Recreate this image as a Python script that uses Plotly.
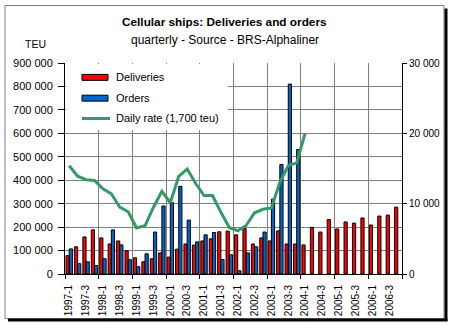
import plotly.graph_objects as go

quarters = ["1997-1", "1997-2", "1997-3", "1997-4", "1998-1", "1998-2", "1998-3", "1998-4",
            "1999-1", "1999-2", "1999-3", "1999-4", "2000-1", "2000-2", "2000-3", "2000-4",
            "2001-1", "2001-2", "2001-3", "2001-4", "2002-1", "2002-2", "2002-3", "2002-4",
            "2003-1", "2003-2", "2003-3", "2003-4", "2004-1", "2004-2", "2004-3", "2004-4",
            "2005-1", "2005-2", "2005-3", "2005-4", "2006-1", "2006-2", "2006-3", "2006-4"]

deliveries = [78000, 116000, 158000, 188000, 154000, 128000, 141000, 99000,
              69000, 52000, 65000, 90000, 72000, 106000, 128000, 123000,
              141000, 150000, 180000, 183000, 167000, 194000, 128000, 154000,
              141000, 184000, 128000, 128000, 124000, 199000, 179000, 232000,
              192000, 222000, 217000, 239000, 209000, 247000, 251000, 285000]

orders = [107000, 44000, 52000, 36000, 65000, 188000, 124000, 61000,
          31000, 86000, 179000, 290000, 304000, 374000, 230000, 137000,
          167000, 177000, 62000, 82000, 14000, 90000, 116000, 179000,
          319000, 467000, 810000, 531000, None, None, None, None,
          None, None, None, None, None, None, None, None]

daily_rate = [15400, 13900, 13400, 13300, 12100, 11400, 9500, 8850,
              6550, 6850, 9500, 11750, 10130, 13900, 14930, 12900,
              11150, 11150, 8800, 6600, 6150, 6900, 8700, 9200,
              9400, 13050, 15400, 15800, 20000, None, None, None,
              None, None, None, None, None, None, None, None]

left_ticks = [0, 100000, 200000, 300000, 400000, 500000, 600000, 700000, 800000, 900000]
right_ticks = [0, 10000, 20000, 30000]

FONT = "Liberation Sans, Arial, sans-serif"
W, H = 452, 328
ML, MR, MT, MB = 65, 50, 63, 52
PW, PH = W - ML - MR, H - MT - MB

def px(x):
    return (x - ML) / PW

def py(y):
    return (H - MB - y) / PH

idx = list(range(len(quarters)))
label_idx = idx[::2]
label_txt = quarters[::2]
grid_vals = [i - 0.5 for i in idx[::4]] + [len(quarters) - 0.5]

fig = go.Figure()
fig.add_trace(go.Bar(x=idx, y=deliveries, name="Deliveries",
                     marker=dict(color="#FF0000", line=dict(color="black", width=1))))
fig.add_trace(go.Bar(x=idx, y=orders, name="Orders",
                     marker=dict(color="#0066CC", line=dict(color="black", width=1))))
fig.add_trace(go.Scatter(x=idx, y=daily_rate, name="Daily rate (1,700 teu)", yaxis="y2",
                         mode="lines", line=dict(color="#339966", width=3)))

shapes = []
# outer chart frame
shapes.append(dict(type="rect", xref="paper", yref="paper", x0=px(5), x1=px(444), y0=py(5), y1=py(321),
                   line=dict(color="#808080", width=1), fillcolor="rgba(0,0,0,0)", layer="below"))
shapes.append(dict(type="line", xref="paper", yref="paper", x0=px(446), x1=px(446), y0=py(8), y1=py(323.5),
                   line=dict(color="black", width=3), layer="above"))
shapes.append(dict(type="line", xref="paper", yref="paper", x0=px(8), x1=px(447.5), y0=py(322.5), y1=py(322.5),
                   line=dict(color="black", width=3), layer="above"))
# legend box and swatches
shapes.append(dict(type="rect", xref="paper", yref="paper", x0=px(66), x1=px(228), y0=py(64), y1=py(131),
                   line=dict(width=0), fillcolor="white", layer="above"))
shapes.append(dict(type="rect", xref="paper", yref="paper", x0=px(82), x1=px(108), y0=py(74.5), y1=py(80.5),
                   line=dict(color="black", width=1), fillcolor="#FF0000", layer="above"))
shapes.append(dict(type="rect", xref="paper", yref="paper", x0=px(82), x1=px(108), y0=py(95.5), y1=py(101.5),
                   line=dict(color="black", width=1), fillcolor="#0066CC", layer="above"))
shapes.append(dict(type="line", xref="paper", yref="paper", x0=px(82), x1=px(110), y0=py(119), y1=py(119),
                   line=dict(color="#339966", width=3), layer="above"))

annotations = [
    dict(text="<b>Cellular ships: Deliveries and orders</b>", x=px(224), y=py(22), xref="paper", yref="paper",
         showarrow=False, xanchor="center", yanchor="middle", font=dict(size=11.8, color="black", family=FONT)),
    dict(text="quarterly - Source - BRS-Alphaliner", x=px(224.5), y=py(40), xref="paper", yref="paper",
         showarrow=False, xanchor="center", yanchor="middle", font=dict(size=12, color="black", family=FONT)),
    dict(text="TEU", x=px(35.5), y=py(44), xref="paper", yref="paper",
         showarrow=False, xanchor="center", yanchor="middle", font=dict(size=10.5, color="black", family=FONT)),
    dict(text="Deliveries", x=px(114), y=py(77.5), xref="paper", yref="paper",
         showarrow=False, xanchor="left", yanchor="middle", font=dict(size=11, color="black", family=FONT)),
    dict(text="Orders", x=px(114), y=py(98.5), xref="paper", yref="paper",
         showarrow=False, xanchor="left", yanchor="middle", font=dict(size=11, color="black", family=FONT)),
    dict(text="Daily rate (1,700 teu)", x=px(114), y=py(119), xref="paper", yref="paper",
         showarrow=False, xanchor="left", yanchor="middle", font=dict(size=11, color="black", family=FONT)),
]

fig.update_layout(
    width=W, height=H,
    margin=dict(l=ML, r=MR, t=MT, b=MB, pad=0),
    paper_bgcolor="white", plot_bgcolor="white",
    barmode="group", bargap=0.24, bargroupgap=0,
    showlegend=False,
    separators=". ",
    font=dict(family=FONT, size=11, color="black"),
    shapes=shapes, annotations=annotations,
    xaxis=dict(range=[-0.5, len(quarters) - 0.5], tickmode="array", tickvals=label_idx, ticktext=label_txt,
               tickangle=-90, tickfont=dict(size=10, family=FONT), showgrid=False, zeroline=False,
               showline=True, linecolor="black", linewidth=1, ticks="", ticklabelstandoff=6,
               minor=dict(tickmode="array", tickvals=grid_vals, showgrid=True, gridcolor="#808080",
                          gridwidth=1, ticks="outside", ticklen=4, tickcolor="black")),
    yaxis=dict(range=[0, 900000], tickmode="array", tickvals=left_ticks, tickformat=",d",
               showgrid=True, gridcolor="#808080", gridwidth=1, zeroline=False,
               showline=True, linecolor="black", linewidth=1, ticks="outside", ticklen=6, tickcolor="black",
               tickfont=dict(size=11, family=FONT), ticklabelstandoff=3),
    yaxis2=dict(range=[0, 30000], tickmode="array", tickvals=right_ticks, tickformat=",d",
                overlaying="y", side="right", showgrid=False, zeroline=False,
                showline=True, linecolor="black", linewidth=1, ticks="outside", ticklen=4, tickcolor="black",
                tickfont=dict(size=10, family=FONT), ticklabelstandoff=0, automargin=False),
)

fig.write_html("out.html")
